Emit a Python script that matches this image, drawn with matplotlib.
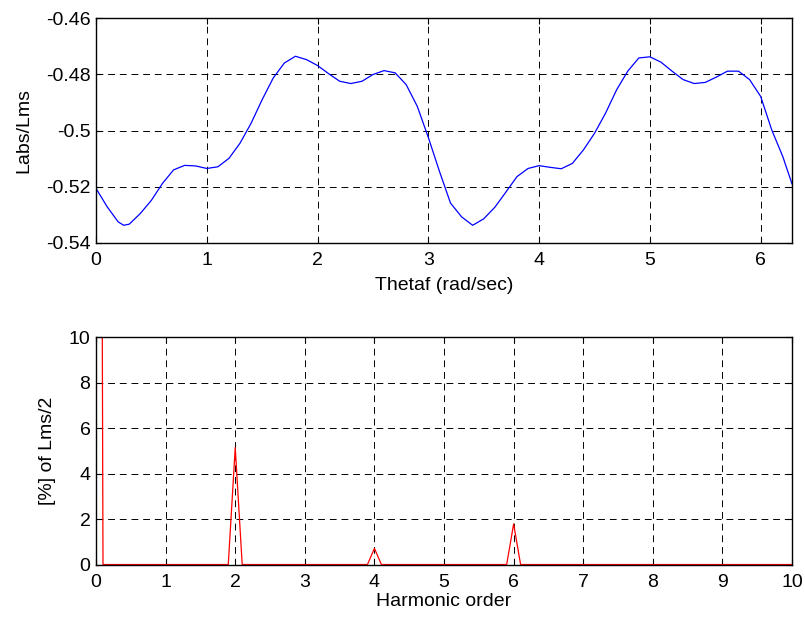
import numpy as np
import matplotlib.pyplot as plt

plt.rcParams['font.family'] = ['Liberation Sans', 'DejaVu Sans']
plt.rcParams['font.size'] = 14

# angulo (rad) e Labs/Lms
theta = [0.0, 0.1, 0.2, 0.25, 0.3, 0.4, 0.5, 0.6, 0.7, 0.8, 0.9, 1.0, 1.1, 1.2, 1.3,
         1.4, 1.5, 1.6, 1.7, 1.8, 1.9, 2.0, 2.1, 2.2, 2.3, 2.4, 2.5, 2.6, 2.7, 2.8,
         2.9, 3.0, 3.1, 3.2, 3.3, 3.4, 3.5, 3.6, 3.7, 3.8, 3.9, 4.0, 4.1, 4.2, 4.3,
         4.4, 4.5, 4.6, 4.7, 4.8, 4.9, 5.0, 5.1, 5.2, 5.3, 5.4, 5.5, 5.6, 5.7, 5.8,
         5.9, 6.0, 6.1, 6.2, 6.283]
labs = [-0.5206, -0.5271, -0.5325, -0.5337, -0.5333, -0.5295, -0.5248, -0.5188,
        -0.5140, -0.5124, -0.5126, -0.5135, -0.5129, -0.5099, -0.5045, -0.4974,
        -0.4890, -0.4813, -0.4760, -0.4736, -0.4748, -0.4769, -0.4798, -0.4825,
        -0.4833, -0.4825, -0.4801, -0.4787, -0.4795, -0.4837, -0.4914, -0.5025,
        -0.5145, -0.5258, -0.5307, -0.5337, -0.5314, -0.5273, -0.5219, -0.5164,
        -0.5135, -0.5125, -0.5131, -0.5136, -0.5117, -0.5069, -0.5010, -0.4938,
        -0.4855, -0.4789, -0.4742, -0.4738, -0.4757, -0.4789, -0.4819, -0.4833,
        -0.4829, -0.4810, -0.4789, -0.4789, -0.4819, -0.4879, -0.4998, -0.5093,
        -0.5190]

# espectro harmonico: ordem 0..10 passo 0.1
ordem = np.round(np.arange(0, 10.01, 0.1), 1)
picos = {0.0: 100.0, 2.0: 5.15, 4.0: 0.73, 6.0: 1.8}
espectro = [picos.get(o, 0.02) for o in ordem]

fig = plt.figure(figsize=(8.05, 6.21), dpi=100)
ax1 = fig.add_axes([0.1193, 0.6087, 0.8646, 0.3623])
ax2 = fig.add_axes([0.1193, 0.0902, 0.8646, 0.3671])

grade = dict(color='black', linestyle=(0, (7, 5)), linewidth=0.7)

ax1.plot(theta, labs, color='blue', linewidth=0.9)
ax1.set_xlim(0, 2 * np.pi)
ax1.set_ylim(-0.54, -0.46)
ax1.set_xticks(range(0, 7))
ax1.set_yticks([-0.54, -0.52, -0.5, -0.48, -0.46])
ax1.set_yticklabels(['-0.54', '-0.52', '-0.5', '-0.48', '-0.46'])
ax1.set_xlabel('Thetaf (rad/sec)')
ax1.set_ylabel('Labs/Lms')
ax1.xaxis.set_label_coords(0.5, -0.15)
ax1.yaxis.set_label_coords(-0.092, 0.5)
ax1.grid(True, **grade)

ax2.plot(ordem, espectro, color='red', linewidth=0.9)
ax2.set_xlim(0, 10)
ax2.set_ylim(0, 10)
ax2.set_xticks(range(0, 11))
ax2.set_yticks(range(0, 11, 2))
ax2.set_xlabel('Harmonic order')
ax2.set_ylabel('[%] of Lms/2')
ax2.xaxis.set_label_coords(0.5, -0.123)
ax2.yaxis.set_label_coords(-0.058, 0.5)
ax2.grid(True, **grade)

for ax in (ax1, ax2):
    ax.tick_params(direction='in', top=True, right=True, length=4)
    ax.tick_params(axis='x', pad=6.5)
    ax.tick_params(axis='y', pad=4)
    for s in ax.spines.values():
        s.set_linewidth(1.0)

fig.savefig('out.png', dpi=100)
